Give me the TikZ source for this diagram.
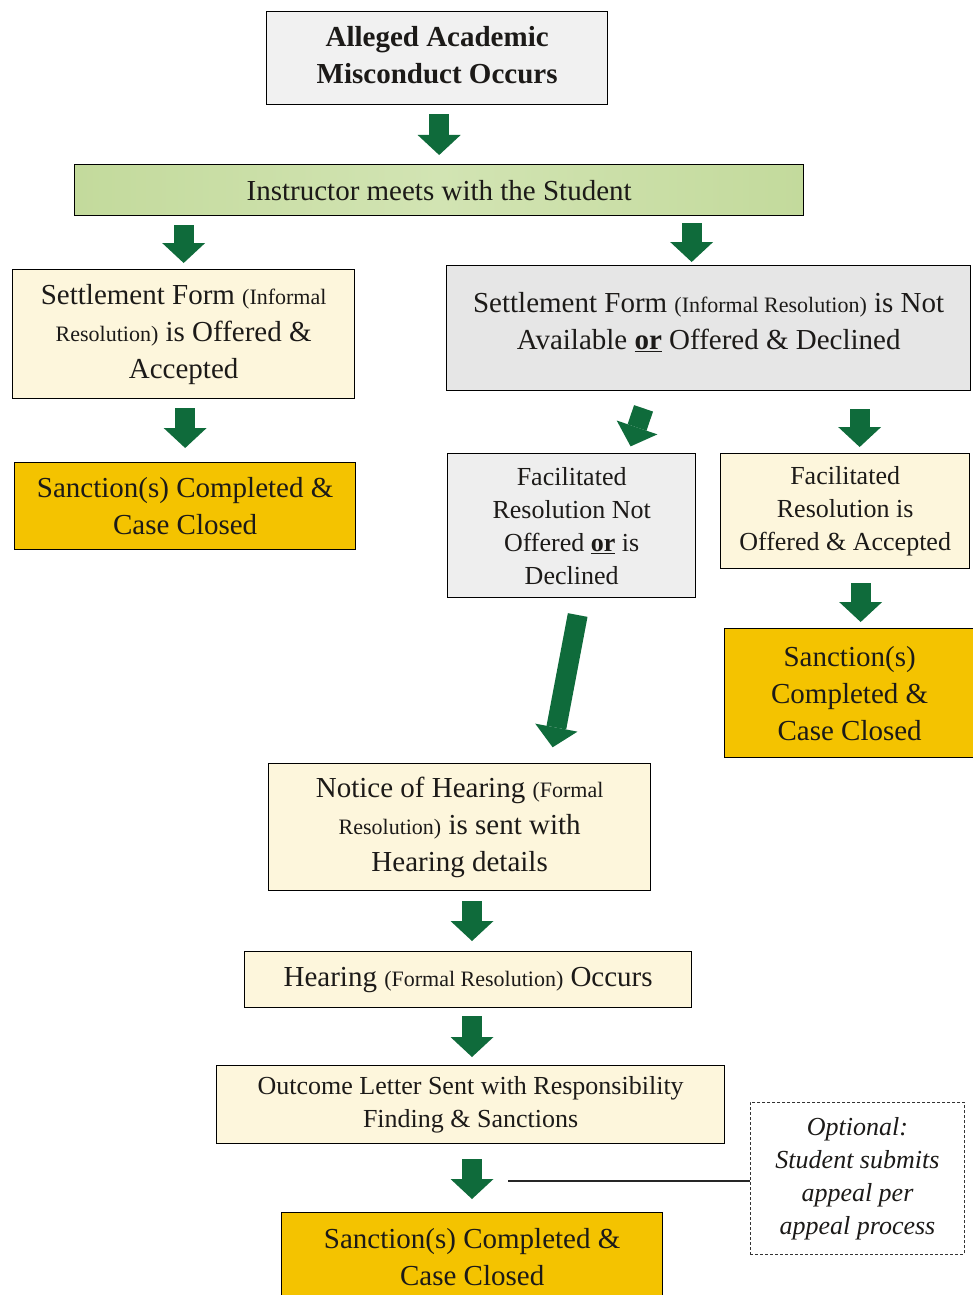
\documentclass[tikz,border=0pt]{standalone}
\usepackage{fontspec}
\setmainfont{Liberation Serif}
\usetikzlibrary{arrows.meta,calc}
\definecolor{titlegray}{HTML}{F1F1F1}
\definecolor{boxgray}{HTML}{E6E6E6}
\definecolor{boxgrayl}{HTML}{EEEEEE}
\definecolor{cream}{HTML}{FDF6DC}
\definecolor{gold}{HTML}{F4C300}
\definecolor{barA}{HTML}{C3DA9C}
\definecolor{barB}{HTML}{D2E4B3}
\definecolor{arrgreen}{HTML}{0F6B3B}
\definecolor{inkc}{HTML}{1C1A18}
\newcommand\fbig{\fontsize{29}{37}\selectfont}
\newcommand\fmed{\fontsize{26}{33}\selectfont}
\newcommand\fsm{\fontsize{22}{37}\selectfont}
\begin{document}
\begin{tikzpicture}[x=1pt,y=-1pt,
  box/.style={draw=black, line width=1.3pt, inner sep=0pt, align=center,
    anchor=north west, text=inkc, font=\fbig},
  blk/.style={draw=arrgreen, line width=20pt,
    -{Triangle[width=43pt,length=20pt,line width=0pt]}},
  appeal/.style={draw=black!80, line width=0.9pt, dash pattern=on 3pt off 2pt, inner sep=0pt,
    align=center, anchor=north west, text=inkc, font=\fmed\itshape}]
\useasboundingbox (0,0) rectangle (972,1295);
\fill[white] (0,0) rectangle (972,1295);

% nodes
\node[box, fill=titlegray, minimum width=341, minimum height=93, font=\fbig\bfseries] (t1) at (266,11) {Alleged Academic\\Misconduct Occurs\\[-30pt]};
\node[box, left color=barA, right color=barA, middle color=barB, minimum width=729, minimum height=51] (t2) at (74,164) {Instructor meets with the Student};
\node[box, fill=cream, minimum width=342, minimum height=129] (s1) at (12,269) {Settlement Form {\fsm(Informal}\\{\fsm Resolution)} is Offered \&\\Accepted};
\node[box, fill=gold, minimum width=341, minimum height=87] (s2) at (14,462) {Sanction(s) Completed \&\\Case Closed};
\node[box, fill=boxgray, minimum width=524, minimum height=125] (n1) at (446,265) {Settlement Form {\fsm(Informal Resolution)} is Not\\Available \underline{\textbf{or}} Offered \& Declined\\[-22pt]};
\node[box, fill=boxgrayl, minimum width=248, minimum height=144, font=\fmed] (f1) at (447,453) {Facilitated\\Resolution Not\\Offered \underline{\textbf{or}} is\\Declined};
\node[box, fill=cream, minimum width=249, minimum height=115, font=\fmed] (f2) at (720,453) {Facilitated\\Resolution is\\Offered \& Accepted};
\node[box, fill=gold, minimum width=250, minimum height=129] (s3) at (724,628) {Sanction(s)\\Completed \&\\Case Closed};
\node[box, fill=cream, minimum width=382, minimum height=127] (h1) at (268,763) {Notice of Hearing {\fsm(Formal}\\{\fsm Resolution)} is sent with\\Hearing details};
\node[box, fill=cream, minimum width=447, minimum height=56] (h2) at (244,951) {Hearing {\fsm(Formal Resolution)} Occurs};
\node[box, fill=cream, minimum width=508, minimum height=78, font=\fmed] (h3) at (216,1065) {Outcome Letter Sent with Responsibility\\Finding \& Sanctions};
\node[appeal, minimum width=214, minimum height=152] (ap) at (750,1102) {Optional:\\Student submits\\appeal per\\appeal process};
\node[box, fill=gold, minimum width=381, minimum height=88] (s4) at (281,1212) {Sanction(s) Completed \&\\Case Closed};

% helper coordinates
\coordinate (colx) at (472,0);
\coordinate (a3x) at ($(n1.north)+(-17,0)$);
\coordinate (a6x) at ($(f2.north)+(14.5,0)$);
\coordinate (a7x) at ($(s3.north)+(11,0)$);

% block arrows
\draw[blk, shorten <=9pt, shorten >=9pt] (t2.north |- t1.south) -- (t2.north);
\draw[blk, shorten <=9pt, shorten >=6pt] (s1.north |- t2.south) -- (s1.north);
\draw[blk, shorten <=7pt, shorten >=3pt] (a3x |- t2.south) -- (a3x);
\draw[blk, shorten <=9pt, shorten >=14pt] (s2.north |- s1.south) -- (s2.north);
\draw[blk, shorten <=18pt, shorten >=7pt] ($(n1.south)+(-59.3,0)$) -- ($(f1.north)+(56.7,0)$);
\draw[blk, shorten <=18pt, shorten >=6pt] (a6x |- n1.south) -- (a6x);
\draw[blk, shorten <=14pt, shorten >=6pt] (a7x |- f2.south) -- (a7x);
\draw[blk, shorten <=17pt, shorten >=16pt] ($(f1.south)+(9.2,0)$) -- ($(h1.north)+(90,0)$);
\draw[blk, shorten <=10pt, shorten >=10pt] (colx |- h1.south) -- (colx |- h2.north);
\draw[blk, shorten <=8pt, shorten >=8pt] (colx |- h2.south) -- (colx |- h3.north);
\draw[blk, shorten <=15pt, shorten >=13pt] (colx |- h3.south) -- (colx |- s4.north);

% appeal connector
\coordinate (lnstart) at (508,1181);
\draw[line width=1.2pt, draw=black!85] (lnstart) -- (lnstart -| ap.west);
\end{tikzpicture}
\end{document}
